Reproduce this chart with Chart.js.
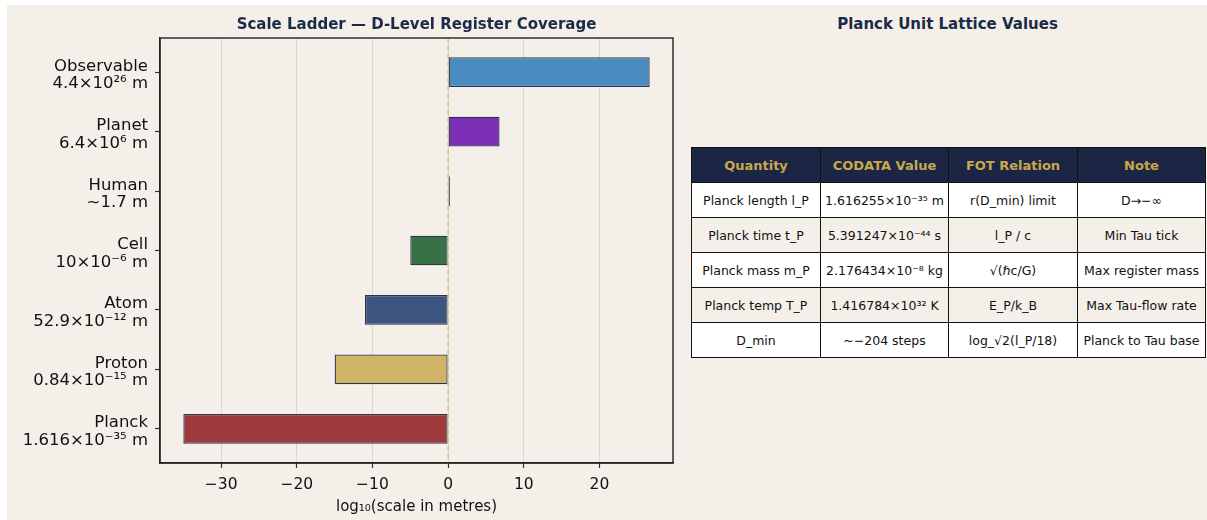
<!DOCTYPE html>
<html>
<head>
<meta charset="utf-8">
<script src="https://cdn.jsdelivr.net/npm/chart.js@4/dist/chart.umd.min.js"></script>
<style>
  html, body { margin:0; padding:0; background:#ffffff; width:1207px; height:520px; overflow:hidden; }
  #fig { position:absolute; left:7px; top:5px; width:1200px; height:515px; background:#f4f0e9; }
  #c { position:absolute; left:0; top:0; }
  #ttitle { position:absolute; left:684px; width:513px; top:10px; text-align:center;
    font: bold 15px "DejaVu Sans", sans-serif; color:#1c2a4a; }
  table { position:absolute; left:684px; top:142px; width:514px; height:210px; border-collapse:collapse;
    font: 12.5px "DejaVu Sans", sans-serif; color:#111; table-layout:fixed; }
  th, td { border:1.5px solid #111; text-align:center; padding:0; white-space:nowrap; overflow:hidden; }
  th { background:#1b2645; color:#c9a84c; font-weight:bold; font-size:13px; height:34px; }
  td { height:34px; }
  tr.odd td { background:#ffffff; }
  tr.even td { background:#f4f0e9; }
</style>
</head>
<body>
<div id="fig">
  <canvas id="c" width="683" height="515"></canvas>
  <div id="ttitle"></div>
  <table id="tbl"></table>
</div>
<script>
// ---- chart data ----
const categories = ["Planck", "Proton", "Atom", "Cell", "Human", "Planet", "Observable"];
const sizeLabels = ["1.616×10⁻³⁵ m", "0.84×10⁻¹⁵ m", "52.9×10⁻¹² m", "10×10⁻⁶ m", "~1.7 m", "6.4×10⁶ m", "4.4×10²⁶ m"];
const log10Values = [-35, -15, -11, -5, 0.23, 6.8, 26.64];
const barColors = ["#9c3a3c", "#cfb466", "#3c5580", "#3a7045", "#2e4170", "#7b2fb5", "#4a8bc0"];
const xTicks = [-30, -20, -10, 0, 10, 20];

// ---- table data ----
const tableTitle = "Planck Unit Lattice Values";
const tableHeaders = ["Quantity", "CODATA Value", "FOT Relation", "Note"];
const colQuantity = ["Planck length l_P", "Planck time t_P", "Planck mass m_P", "Planck temp T_P", "D_min"];
const colCodata = ["1.616255×10⁻³⁵ m", "5.391247×10⁻⁴⁴ s", "2.176434×10⁻⁸ kg", "1.416784×10³² K", "~−204 steps"];
const colRelation = ["r(D_min) limit", "l_P / c", "√(ℏc/G)", "E_P/k_B", "log_√2(l_P/18)"];
const colNote = ["D→−∞", "Min Tau tick", "Max register mass", "Max Tau-flow rate", "Planck to Tau base"];

// build table
document.getElementById('ttitle').textContent = tableTitle;
const tbl = document.getElementById('tbl');
const colW = [129, 128, 129, 128];
let html = '<colgroup>' + colW.map(w => '<col style="width:' + w + 'px">').join('') + '</colgroup>';
html += '<tr>' + tableHeaders.map(h => '<th>' + h + '</th>').join('') + '</tr>';
for (let i = 0; i < colQuantity.length; i++) {
  html += '<tr class="' + (i % 2 === 0 ? 'odd' : 'even') + '"><td>' + colQuantity[i] + '</td><td>' + colCodata[i] +
    '</td><td>' + colRelation[i] + '</td><td>' + colNote[i] + '</td></tr>';
}
tbl.innerHTML = html;

// ---- chart ----
const dataMin = Math.min(...log10Values, 0), dataMax = Math.max(...log10Values, 0);
const pad = (dataMax - dataMin) * 0.05;

const framePlugin = {
  id: 'frame',
  afterDatasetsDraw(chart) {
    const {ctx, chartArea: a, scales: {x}} = chart;
    const x0 = x.getPixelForValue(0);
    ctx.save();
    ctx.strokeStyle = '#d8bc76';
    ctx.lineWidth = 1.2;
    ctx.setLineDash([5, 3]);
    ctx.beginPath();
    ctx.moveTo(x0, a.top);
    ctx.lineTo(x0, a.bottom);
    ctx.stroke();
    ctx.restore();
  },
  afterDraw(chart) {
    const {ctx, chartArea: a} = chart;
    ctx.save();
    ctx.strokeStyle = '#222';
    ctx.lineWidth = 1.4;
    ctx.strokeRect(a.left, a.top, a.right - a.left, a.bottom - a.top);
    ctx.restore();
  }
};

new Chart(document.getElementById('c'), {
  type: 'bar',
  data: {
    datasets: [{
      data: log10Values.map((v, i) => ({x: v, y: i})),
      backgroundColor: barColors,
      borderColor: '#2b3452',
      borderWidth: 1.3,
      borderSkipped: false,
      barPercentage: 0.5,
      categoryPercentage: 1.0
    }]
  },
  options: {
    indexAxis: 'y',
    responsive: false,
    animation: false,
    devicePixelRatio: 1,
    layout: { padding: { left: 0, right: 17, top: 0, bottom: 0 } },
    plugins: {
      legend: { display: false },
      tooltip: { enabled: false },
      title: {
        display: true,
        fullSize: false,
        text: 'Scale Ladder — D-Level Register Coverage',
        color: '#1c2a4a',
        font: { family: 'DejaVu Sans', size: 15, weight: 'bold', lineHeight: 1.2 },
        padding: { top: 11, bottom: 4 }
      }
    },
    scales: {
      x: {
        type: 'linear',
        min: dataMin - pad,
        max: dataMax + pad,
        afterFit(s) { s.height = 57; },
        afterBuildTicks(s) { s.ticks = xTicks.map(v => ({value: v})); },
        ticks: {
          color: '#111',
          font: { family: 'DejaVu Sans', size: 15.5 },
          padding: 8,
          callback: v => (v < 0 ? '−' + Math.abs(v) : String(v))
        },
        grid: { color: '#dcd7ce', lineWidth: 1, tickLength: 5, tickColor: '#333', tickWidth: 1.2 },
        border: { display: true, color: '#222', width: 1.4 },
        title: {
          display: true,
          text: 'log₁₀(scale in metres)',
          color: '#111',
          font: { family: 'DejaVu Sans', size: 15 },
          padding: { top: 0, bottom: 4 }
        }
      },
      y: {
        type: 'linear',
        offset: false,
        min: -0.575,
        max: 6.575,
        afterFit(s) { s.width = 153; },
        afterBuildTicks(s) { s.ticks = categories.map((c, i) => ({value: i})); },
        ticks: {
          color: '#111',
          font: { family: 'DejaVu Sans', size: 16.5, lineHeight: 1.06 },
          padding: 7,
          labelOffset: 3,
          autoSkip: false,
          callback: (v) => [categories[v], sizeLabels[v]]
        },
        grid: { offset: false, drawOnChartArea: false, tickLength: 5, tickColor: '#333', tickWidth: 1.2 },
        border: { display: true, color: '#222', width: 1.4 }
      }
    }
  },
  plugins: [framePlugin]
});
</script>
</body>
</html>
